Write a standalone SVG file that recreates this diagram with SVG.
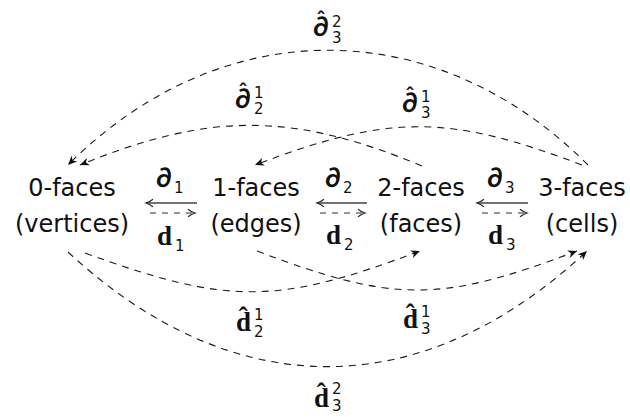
<svg xmlns="http://www.w3.org/2000/svg" width="630" height="417" viewBox="0 0 630 417">
<style>
.node{font-family:"DejaVu Sans",sans-serif;font-size:24px;fill:#111;text-anchor:middle}
.lab{font-family:"Liberation Serif",serif;font-weight:bold;font-size:27px;fill:#111}
.pd{font-family:"Lato","DejaVu Sans",sans-serif;font-weight:bold;font-size:27px;fill:#111}
.ix{font-family:"DejaVu Sans",sans-serif;font-weight:normal;font-size:15px}
.hat{font-family:"DejaVu Sans",sans-serif;font-weight:bold;font-size:20px}
.dash{fill:none;stroke:#1a1a1a;stroke-width:1.1;stroke-dasharray:7 6}
.solid{fill:none;stroke:#444;stroke-width:1.4}
.sdash{fill:none;stroke:#333;stroke-width:1.1;stroke-dasharray:6 6}
</style>
<defs>
<marker id="ah" markerWidth="12" markerHeight="12" refX="10" refY="6" orient="auto" markerUnits="userSpaceOnUse">
<path d="M1,2 L10,6 L1,10 L3.5,6 z" fill="#111"/>
</marker>
<marker id="to" markerWidth="12" markerHeight="12" refX="9" refY="6" orient="auto" markerUnits="userSpaceOnUse">
<path d="M2,2.2 Q5.5,5 9,6 Q5.5,7 2,9.8" fill="none" stroke="#222" stroke-width="1.1"/>
</marker>
</defs>

<g id="connectors">
<path class="solid" d="M197,203 L146,203" marker-end="url(#to)"/>
<path class="sdash" d="M150,213 L195,213" marker-end="url(#to)"/>
<path class="solid" d="M367,203 L317,203" marker-end="url(#to)"/>
<path class="sdash" d="M320,213 L365,213" marker-end="url(#to)"/>
<path class="solid" d="M528,203 L477,203" marker-end="url(#to)"/>
<path class="sdash" d="M482,213 L527,213" marker-end="url(#to)"/>

<path class="dash" d="M588,165 C435,12 221,12 68,165" marker-end="url(#ah)"/>
<path class="dash" d="M422,166 C292,112 210,112 80,165" marker-end="url(#ah)"/>
<path class="dash" d="M582,165 C448,114 389,114 255,165" marker-end="url(#ah)"/>
<path class="dash" d="M85,253 C228,305 277,305 420,251" marker-end="url(#ah)"/>
<path class="dash" d="M257,251 C394,303 440,303 577,251" marker-end="url(#ah)"/>
<path class="dash" d="M68,252 C233,405 422,405 587,251" marker-end="url(#ah)"/>
</g>

<g id="n0">
<text class="node" x="72" y="196">0-faces</text>
<text class="node" x="72" y="232">(vertices)</text>
</g>
<g id="n1">
<text class="node" x="256" y="196">1-faces</text>
<text class="node" x="256" y="232">(edges)</text>
</g>
<g id="n2">
<text class="node" x="421" y="196">2-faces</text>
<text class="node" x="421" y="232">(faces)</text>
</g>
<g id="n3">
<text class="node" x="582" y="196">3-faces</text>
<text class="node" x="582" y="232">(cells)</text>
</g>

<g id="labels">
<text class="pd" x="156" y="187">∂<tspan class="ix" x="174" y="193">1</tspan></text>
<text class="pd" x="325" y="187">∂<tspan class="ix" x="343" y="193">2</tspan></text>
<text class="pd" x="487" y="187">∂<tspan class="ix" x="505" y="193">3</tspan></text>
<text class="lab" x="157" y="245">d<tspan class="ix" x="175" y="251">1</tspan></text>
<text class="lab" x="326" y="244">d<tspan class="ix" x="344" y="250">2</tspan></text>
<text class="lab" x="488" y="244">d<tspan class="ix" x="506" y="250">3</tspan></text>

<text class="pd"><tspan class="hat" x="316" y="26">ˆ</tspan><tspan x="313" y="36">∂</tspan><tspan class="ix" x="332" y="27">2</tspan><tspan class="ix" x="332" y="43">3</tspan></text>
<text class="pd"><tspan class="hat" x="238" y="98">ˆ</tspan><tspan x="235" y="108">∂</tspan><tspan class="ix" x="254" y="98">1</tspan><tspan class="ix" x="254" y="114">2</tspan></text>
<text class="pd"><tspan class="hat" x="405" y="102">ˆ</tspan><tspan x="402" y="112">∂</tspan><tspan class="ix" x="421" y="102">1</tspan><tspan class="ix" x="421" y="118">3</tspan></text>

<text class="lab" x="236" y="331">d̂<tspan class="ix" x="254" y="320">1</tspan><tspan class="ix" x="254" y="337">2</tspan></text>
<text class="lab" x="403" y="328">d̂<tspan class="ix" x="421" y="317">1</tspan><tspan class="ix" x="421" y="334">3</tspan></text>
<text class="lab" x="314" y="407">d̂<tspan class="ix" x="332" y="394">2</tspan><tspan class="ix" x="332" y="411">3</tspan></text>
</g>
</svg>
